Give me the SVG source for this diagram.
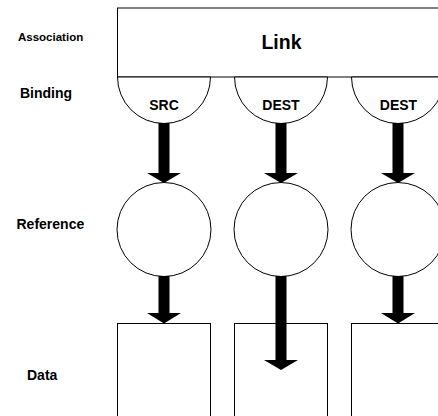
<svg xmlns="http://www.w3.org/2000/svg" width="438" height="416" viewBox="0 0 438 416">
<style>
.shape{fill:#fff;stroke:#000;stroke-width:1}
.lbl{font-family:"Liberation Sans",Arial,sans-serif;font-weight:bold;fill:#000}
.arrow{fill:#000;stroke:none}
</style>
<rect width="438" height="416" fill="#fff"/>
<g id="row-labels">
<text class="lbl" x="18" y="40.5" font-size="11.5">Association</text>
<text class="lbl" x="20" y="98" font-size="14">Binding</text>
<text class="lbl" x="16.5" y="229" font-size="14">Reference</text>
<text class="lbl" x="27" y="380" font-size="14">Data</text>
</g>
<g id="link">
<rect class="shape" x="117.5" y="8" width="340" height="69"/>
<text class="lbl" x="281.5" y="48.5" font-size="19.5" text-anchor="middle">Link</text>
</g>
<g id="binding-src">
<path class="shape" d="M117.5 77 A46.5 46.5 0 0 0 210.5 77 Z"/>
<text class="lbl" x="164" y="110" font-size="14" text-anchor="middle">SRC</text>
</g>
<g id="binding-dest1">
<path class="shape" d="M234.5 77 A46.5 46.5 0 0 0 327.5 77 Z"/>
<text class="lbl" x="281" y="110" font-size="14" text-anchor="middle">DEST</text>
</g>
<g id="binding-dest2">
<path class="shape" d="M351.5 77 A46.5 46.5 0 0 0 444.5 77 Z"/>
<text class="lbl" x="398.5" y="110" font-size="14" text-anchor="middle">DEST</text>
</g>
<g id="reference1"><circle class="shape" cx="164" cy="229.5" r="47"/></g>
<g id="reference2"><circle class="shape" cx="281" cy="229.5" r="47"/></g>
<g id="reference3"><circle class="shape" cx="398" cy="229.5" r="47"/></g>
<g id="data1"><rect class="shape" x="117.5" y="323.5" width="93" height="110"/></g>
<g id="data2"><rect class="shape" x="234.5" y="323.5" width="93" height="110"/></g>
<g id="data3"><rect class="shape" x="351.5" y="323.5" width="93" height="110"/></g>
<g id="connectors">
<polygon class="arrow" points="158.5,123 169.5,123 169.5,173 181,173 164,183 147,173 158.5,173"/>
<polygon class="arrow" points="275.5,123 286.5,123 286.5,173 298,173 281,183 264,173 275.5,173"/>
<polygon class="arrow" points="392.5,123 403.5,123 403.5,173 415,173 398,183 381,173 392.5,173"/>
<polygon class="arrow" points="158.5,276 169.5,276 169.5,313 181,313 164,323.5 147,313 158.5,313"/>
<polygon class="arrow" points="275.5,276 286.5,276 286.5,360 298,360 281,370 264,360 275.5,360"/>
<polygon class="arrow" points="392.5,276 403.5,276 403.5,313 415,313 398,323.5 381,313 392.5,313"/>
</g>
</svg>
